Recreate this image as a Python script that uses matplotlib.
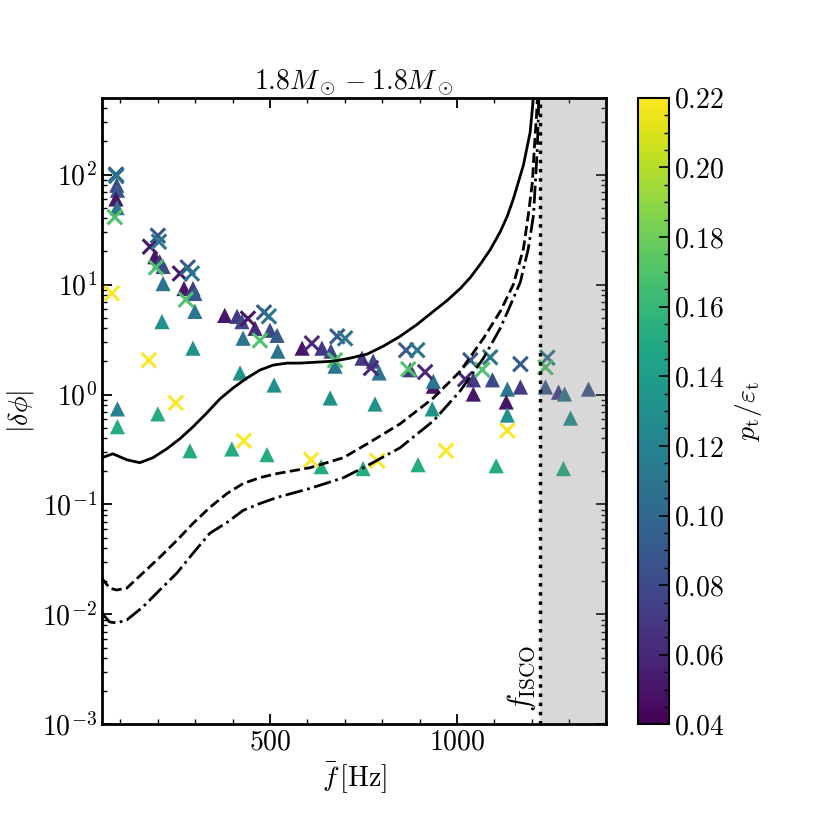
import matplotlib
matplotlib.use("Agg")
import matplotlib.pyplot as plt
from matplotlib.ticker import MultipleLocator, LogLocator, NullFormatter
import numpy as np

plt.rcParams.update({
    "font.family": "serif",
    "font.serif": ["cmr10"],
    "mathtext.fontset": "cm",
    "axes.formatter.use_mathtext": True,
    "font.size": 20,
    "axes.unicode_minus": False,
})

F_ISCO = 1222.0
X_MAX = 1400.0

# PN phase error curves
solid_f = [50, 79.5, 117, 151.8, 186.6, 224, 259, 294, 331, 366, 401, 438, 473, 508,
           546, 580, 626, 669, 714, 760, 803, 848, 894, 937, 974, 1009, 1036, 1062,
           1089, 1116, 1135, 1151, 1178, 1196, 1206]
solid_v = [0.266, 0.289, 0.255, 0.240, 0.266, 0.321, 0.396, 0.508, 0.680, 0.911, 1.145,
           1.41, 1.667, 1.85, 1.93, 1.93, 1.97, 2.01, 2.14, 2.33, 2.75, 3.38, 4.35, 5.7,
           7.17, 9.2, 11.6, 15.2, 20.7, 30.2, 42, 60, 122, 243, 560]

dash_f = [50, 71, 90, 117, 160, 205, 251, 294, 339, 385, 428, 473, 519, 607, 696, 760,
          848, 937, 1009, 1071, 1116, 1151, 1178, 1191, 1202, 1207, 1213, 1216]
dash_v = [0.0214, 0.01737, 0.0167, 0.01737, 0.0238, 0.0331, 0.0472, 0.0673, 0.094, 0.1258,
          0.155, 0.1755, 0.191, 0.216, 0.266, 0.356, 0.541, 0.929, 1.63, 3.24, 5.7, 10.0,
          21.2, 43.0, 85.5, 170, 345, 560]

dashdot_f = [50, 71, 90, 117, 160, 205, 251, 294, 339, 385, 428, 473, 519, 607, 696, 760,
             848, 937, 1009, 1071, 1116, 1151, 1170, 1191, 1205, 1210, 1215, 1218, 1219]
dashdot_v = [0.0103, 0.00855, 0.00838, 0.00892, 0.0117, 0.01666, 0.0238, 0.036, 0.0547,
             0.0687, 0.0883, 0.102, 0.116, 0.14, 0.175, 0.225, 0.328, 0.575, 1.08, 2.14,
             4.0, 7.47, 10.6, 21.2, 43, 85.5, 170, 345, 560]

# triangles
tri_f = [90, 92, 88, 91, 92, 92,
         192, 205, 214, 214, 211, 200,
         270, 294, 299, 299, 294, 286,
         379, 412, 425, 428, 460, 500, 519, 521, 420, 511, 398, 492,
         586, 639, 663, 674, 661, 637,
         746, 776, 792, 781, 749,
         875, 937, 937, 934, 896,
         1044, 1044, 1095, 1135, 1132, 1135, 1170, 1105,
         1237, 1272, 1288, 1352, 1304, 1285]
tri_v = [80, 72, 60, 50, 0.74, 0.51,
         17.9, 16.1, 14.6, 10.2, 4.6, 0.667,
         9.2, 9.2, 8.3, 5.7, 2.64, 0.308,
         5.24, 5.14, 4.6, 3.25, 4.0, 3.84, 3.45, 2.48, 1.57, 1.22, 0.32, 0.284,
         2.64, 2.64, 2.48, 1.81, 0.93, 0.221,
         2.14, 2.01, 1.57, 0.82, 0.212,
         1.68, 1.19, 1.32, 0.74, 0.230,
         1.36, 1.01, 1.36, 1.12, 0.855, 0.65, 1.17, 0.225,
         1.17, 1.05, 1.01, 1.12, 0.61, 0.212]
tri_c = [0.08, 0.09, 0.05, 0.11, 0.12, 0.15,
         0.05, 0.07, 0.08, 0.11, 0.13, 0.15,
         0.05, 0.07, 0.09, 0.11, 0.13, 0.15,
         0.05, 0.07, 0.08, 0.11, 0.06, 0.08, 0.09, 0.11, 0.13, 0.13, 0.15, 0.15,
         0.05, 0.07, 0.08, 0.11, 0.13, 0.15,
         0.07, 0.08, 0.11, 0.13, 0.15,
         0.07, 0.05, 0.11, 0.13, 0.15,
         0.07, 0.05, 0.08, 0.11, 0.05, 0.13, 0.07, 0.15,
         0.09, 0.07, 0.11, 0.09, 0.13, 0.15]

# crosses
crs_f = [88, 89, 85, 77,
         179, 200, 203, 195, 176,
         259, 280, 291, 275, 248,
         441, 473, 484, 497, 430,
         612, 680, 701, 674, 610,
         770, 787,
         864, 894, 870, 915, 971,
         1036, 1089, 1068, 1022, 1135,
         1170, 1242, 1237]
crs_v = [100, 97, 41, 8.3,
         22.1, 27.8, 24.5, 14.3, 2.05,
         12.6, 14.3, 12.6, 7.3, 0.84,
         4.9, 3.1, 5.58, 5.14, 0.38,
         2.92, 3.38, 3.24, 2.05, 0.255,
         1.74, 0.25,
         2.53, 2.53, 1.70, 1.60, 0.308,
         2.05, 2.18, 1.68, 1.38, 0.47,
         1.89, 2.16, 1.77]
crs_c = [0.09, 0.11, 0.17, 0.22,
         0.05, 0.09, 0.11, 0.17, 0.22,
         0.05, 0.09, 0.11, 0.17, 0.22,
         0.05, 0.17, 0.09, 0.11, 0.22,
         0.06, 0.09, 0.11, 0.17, 0.22,
         0.06, 0.22,
         0.09, 0.11, 0.17, 0.06, 0.22,
         0.09, 0.11, 0.17, 0.06, 0.22,
         0.09, 0.11, 0.17]


def main():
    fig, ax = plt.subplots(figsize=(8.14, 8.14), dpi=100)

    ax.plot(solid_f, solid_v, color="black", lw=2.0, ls="-", zorder=3)
    ax.plot(dash_f, dash_v, color="black", lw=2.0, ls="--", zorder=3)
    ax.plot(dashdot_f, dashdot_v, color="black", lw=2.0, ls="-.", zorder=3)

    sc = ax.scatter(tri_f, tri_v, c=tri_c, cmap="viridis", vmin=0.04, vmax=0.22,
                    marker="^", s=120, linewidths=0, zorder=2)
    ax.scatter(crs_f, crs_v, c=crs_c, cmap="viridis", vmin=0.04, vmax=0.22,
               marker="x", s=110, linewidths=2.2, zorder=2)

    ax.axvspan(F_ISCO, X_MAX, color="gray", alpha=0.3, lw=0, zorder=2.5)
    ax.axvline(F_ISCO, color="black", ls=":", lw=2.5, zorder=4)
    ax.text(F_ISCO - 5, 1.3e-3, r"$f_\mathrm{ISCO}$", rotation=90, ha="right",
            va="bottom", fontsize=22)

    ax.set_yscale("log")
    ax.set_xlim(50, X_MAX)
    ax.set_ylim(1e-3, 500)
    ax.xaxis.set_major_locator(MultipleLocator(500))
    ax.xaxis.set_minor_locator(MultipleLocator(100))
    ax.yaxis.set_major_locator(LogLocator(base=10, numticks=20))
    ax.yaxis.set_minor_locator(LogLocator(base=10, subs=np.arange(2, 10), numticks=20))
    ax.yaxis.set_minor_formatter(NullFormatter())
    ax.tick_params(which="both", direction="in", top=True, right=True)
    ax.tick_params(which="major", length=7, width=1.3)
    ax.tick_params(which="minor", length=3.5, width=1.0)
    for sp in ax.spines.values():
        sp.set_linewidth(2.0)

    ax.set_xlabel(r"$\bar{f}\,[\mathrm{Hz}]$")
    ax.set_ylabel(r"$|\delta\phi|$")
    ax.set_title(r"$1.8M_\odot - 1.8M_\odot$", fontsize=20)

    cbar = fig.colorbar(sc, ax=ax)
    cbar.set_label(r"$p_\mathrm{t}/\varepsilon_\mathrm{t}$", labelpad=6)
    cbar.set_ticks(np.arange(0.04, 0.2201, 0.02))
    cbar.ax.yaxis.set_minor_locator(MultipleLocator(0.005))
    cbar.ax.tick_params(which="both", direction="in")
    cbar.ax.tick_params(which="major", length=7, width=1.2)
    cbar.ax.tick_params(which="minor", length=3.5, width=1.0)
    cbar.outline.set_linewidth(1.5)

    fig.savefig("out.png", dpi=100)
    plt.close(fig)


if __name__ == "__main__":
    main()
